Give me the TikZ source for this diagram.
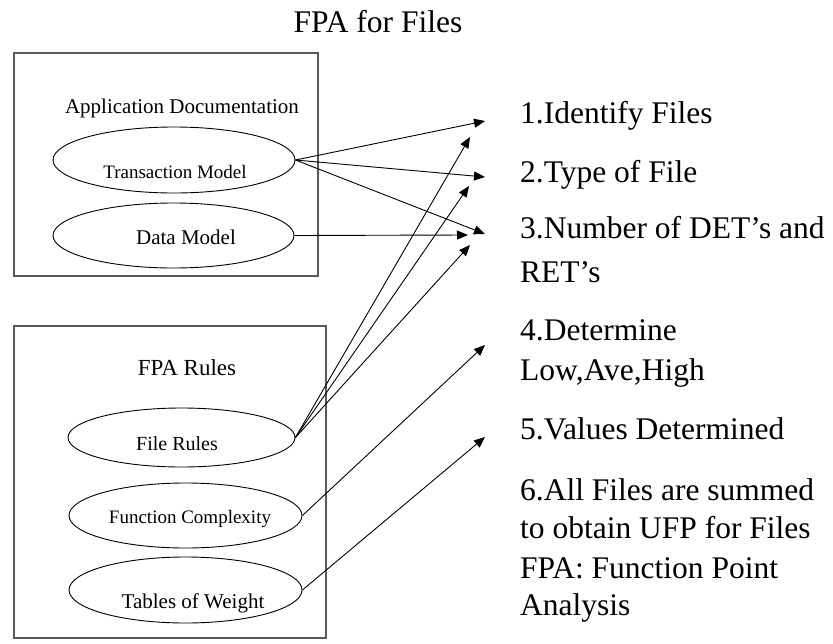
\documentclass[tikz,border=0pt]{standalone}
\usepackage{fontspec}
\setmainfont{Liberation Serif}
\usetikzlibrary{arrows.meta,shapes.geometric}
\tikzset{%
    frm/.style={draw=black!65, line width=1.3pt},
    ova/.style={ellipse, draw, line width=0.9pt, inner sep=0pt},
    lab/.style={inner sep=0pt, anchor=base},
    stp/.style={inner sep=0pt, anchor=base west, font=\fontsize{31.5}{38}\selectfont},
    pra/.style={line width=0.9pt, -{Triangle[length=11pt, width=9pt]}}
}

\begin{document}
\begin{tikzpicture}[x=1pt,y=-1pt]
    \useasboundingbox (0,0) rectangle (833,643);
    \node[lab,font=\fontsize{31.5}{38}\selectfont] (ttl) at (378,32) {FPA for Files};
    % the two frames
    \draw [frm](14,53) rectangle (318,276);
    \draw [frm](14,326) rectangle (326,638);
    \node[lab,font=\fontsize{21}{24}\selectfont] (apd) at (182,113) {Application Documentation};
    \node[lab,font=\fontsize{23}{26}\selectfont] (fpr) at (187,375) {FPA Rules};
    % ovals
    \node[ova,minimum width=242,minimum height=66] (tm) at (174,160) {};
    \node[ova,minimum width=241,minimum height=65] (dm) at (173.5,235.5) {};
    \node[ova,minimum width=227,minimum height=59] (fr) at (181.5,437.5) {};
    \node[ova,minimum width=233,minimum height=65] (fc) at (185.5,515.5) {};
    \node[ova,minimum width=233,minimum height=66] (tw) at (185.5,590) {};
    \node[lab,font=\fontsize{19}{22}\selectfont] (tmt) at (175,178) {Transaction Model};
    \node[lab,font=\fontsize{21}{24}\selectfont] (dmt) at (186,244) {Data Model};
    \node[lab,font=\fontsize{20}{23}\selectfont] (frt) at (177,450) {File Rules};
    \node[lab,font=\fontsize{19}{22}\selectfont] (fct) at (190,523) {Function Complexity};
    \node[lab,font=\fontsize{21}{24}\selectfont] (twt) at (193,608) {Tables of Weight};
    % steps
    \node[stp] (s1) at (520,123) {1.Identify Files};
    \node[stp] (s2) at (520,182) {2.Type of File};
    \node[stp] (s3) at (520,238) {3.Number of DET’s and};
    \node[stp] (s3b) at (520,282) {RET’s};
    \node[stp] (s4) at (520,340) {4.Determine};
    \node[stp] (s4b) at (520,380) {Low,Ave,High};
    \node[stp] (s5) at (520,439) {5.Values Determined};
    \node[stp] (s6) at (520,500) {6.All Files are summed};
    \node[stp] (s6b) at (520,538) {to obtain UFP for Files};
    \node[stp] (fa) at (520,578) {FPA: Function Point};
    \node[stp] (fab) at (520,615) {Analysis};
    % arrow tips
    \coordinate (t1) at (485,121);
    \coordinate (t2) at (485,177);
    \coordinate (t3) at (485,234);
    \coordinate (d3) at (468,235);
    \coordinate (f1) at (470,137);
    \coordinate (f2) at (469,186);
    \coordinate (f3) at (470,245);
    \coordinate (c4) at (485,345);
    \coordinate (w5) at (485,437);
    \draw [pra](tm.east)--(t1);
    \draw [pra](tm.east)--(t2);
    \draw [pra](tm.east)--(t3);
    \draw [pra](dm.east)--(d3);
    \draw [pra](fr.east)--(f1);
    \draw [pra](fr.east)--(f2);
    \draw [pra](fr.east)--(f3);
    \draw [pra](fc.east)--(c4);
    \draw [pra](tw.east)--(w5);
\end{tikzpicture}
\end{document}
